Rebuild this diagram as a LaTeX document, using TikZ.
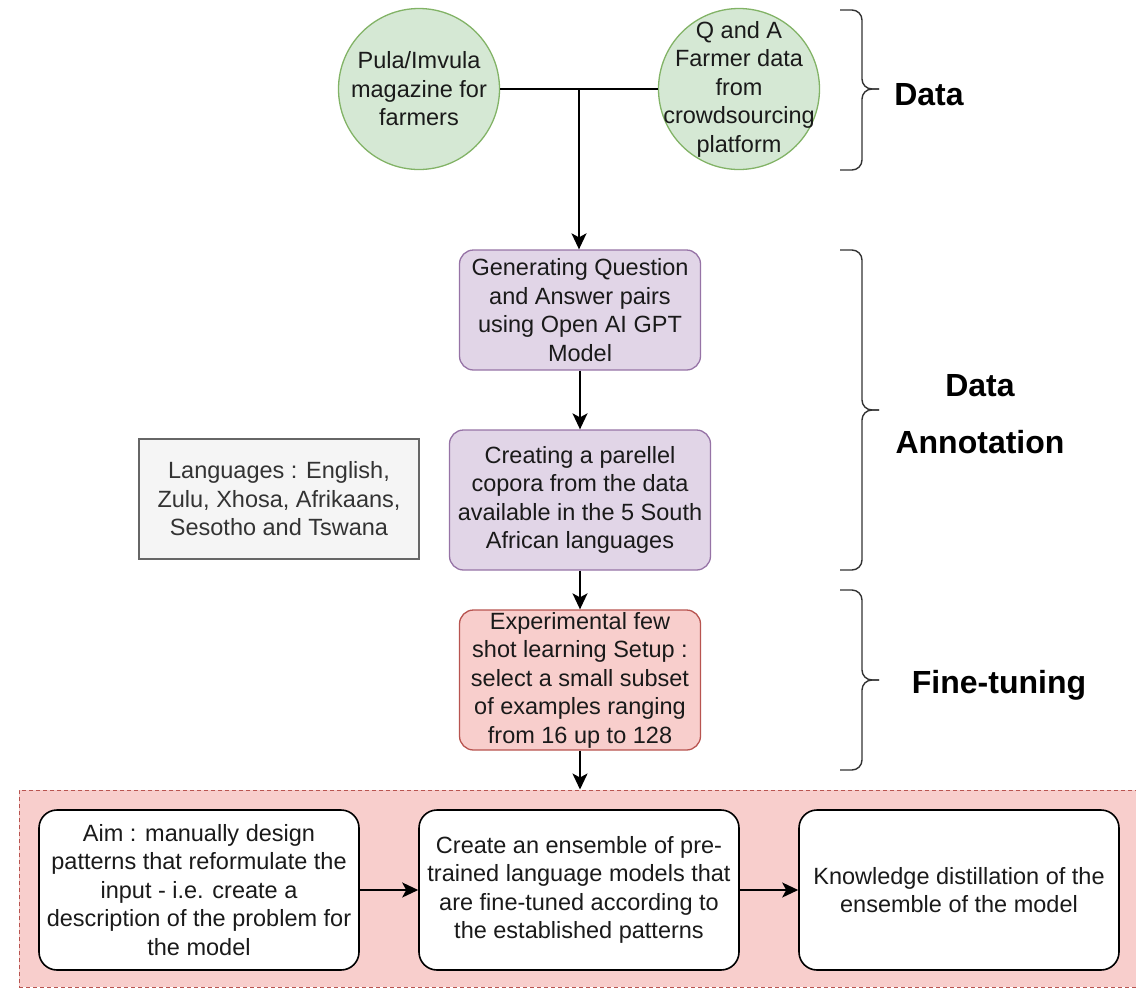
\documentclass[tikz,border=0pt]{standalone}
\usepackage{fontspec}
\setmainfont{Liberation Sans}
\usetikzlibrary{arrows.meta,calc}
\definecolor{gfill}{HTML}{D5E8D4}\definecolor{gline}{HTML}{82B366}
\definecolor{pfill}{HTML}{E1D5E7}\definecolor{pline}{HTML}{9673A6}
\definecolor{rfill}{HTML}{F8CECC}\definecolor{rline}{HTML}{B85450}
\definecolor{lfill}{HTML}{F5F5F5}\definecolor{lline}{HTML}{666666}
\definecolor{ltext}{HTML}{333333}
\definecolor{mtext}{HTML}{1A1A1A}
\begin{document}
\begin{tikzpicture}[x=1pt,y=-1pt,
  every node/.style={font=\fontsize{23.5}{28.5}\selectfont, text=mtext, align=center, inner sep=0pt},
  src/.style={circle, draw=gline, fill=gfill, line width=1.3pt, minimum size=161pt},
  pbox/.style={rectangle, rounded corners=14pt, draw=pline, fill=pfill, line width=1.3pt},
  rbox/.style={rectangle, rounded corners=14pt, draw=rline, fill=rfill, line width=1.3pt},
  wbox/.style={rectangle, rounded corners=18pt, draw=black, fill=white, line width=1.6pt, minimum width=320pt, minimum height=160pt},
  lbox/.style={rectangle, draw=lline, fill=lfill, line width=1.3pt, minimum width=280pt, minimum height=120pt, text=ltext},
  cont/.style={rectangle, draw=rline, fill=rfill, dashed, dash pattern=on 4pt off 3pt, line width=1pt},
  arr/.style={line width=2pt, -{Stealth[length=16pt,width=15pt,inset=4pt]}},
  link/.style={line width=2pt},
  brace/.style={line width=1.4pt, draw=black!80, rounded corners=10pt},
  lab/.style={font=\fontsize{32}{57}\selectfont\bfseries, text=black}]
\useasboundingbox (0,0) rectangle (1136,989);
% container
\node[cont, minimum width=1130pt, minimum height=197pt] (cont) at (584,888.5) {};
% sources
\node[src] (c1) at (419,89) {};
\node (t1) at (c1.center) {Pula/Imvula\\magazine for\\farmers};
\node[src] (c2) at (739,89) {};
\node (t2) at (c2.center) {Q and A\\Farmer data\\from\\crowdsourcing\\platform};
% process boxes
\node[pbox, minimum width=241pt, minimum height=120pt] (b1) at (580,310) {Generating Question\\and Answer pairs\\using Open AI GPT\\Model};
\node[pbox, minimum width=261pt, minimum height=140pt] (b2) at (580,500) {Creating a parellel\\copora from the data\\available in the 5 South\\African languages};
\node[rbox, minimum width=241pt, minimum height=140pt] (b3) at (580,680) {Experimental few\\shot learning Setup :\\select a small subset\\of examples ranging\\from 16 up to 128};
\node[lbox] (lang) at (279,499) {Languages : English,\\Zulu, Xhosa, Afrikaans,\\Sesotho and Tswana};
% bottom boxes
\node[wbox] (w1) at (199,890) {Aim : manually design\\patterns that reformulate the\\input - i.e. create a\\description of the problem for\\the model};
\node[wbox] (w2) at (579,890) {Create an ensemble of pre-\\trained language models that\\are fine-tuned according to\\the established patterns};
\node[wbox] (w3) at (959,890) {Knowledge distillation of the\\ensemble of the model};
% connectors
\draw[link] (c1.east) -- (c2.west);
\coordinate (j) at ($(c1.east)!0.5!(c2.west)$);
\draw[arr] (j) -- (j |- b1.north);
\draw[arr] (b1.south) -- (b2.north);
\draw[arr] (b2.south) -- (b3.north);
\draw[arr] (b3.south) -- (b3.south |- cont.north);
\draw[arr] (w1.east) -- (w2.west);
\draw[arr] (w2.east) -- (w3.west);
% braces
\draw[brace] (840,10) -- (862,10) -- (862,89) -- (879,89);
\draw[brace] (840,170) -- (862,170) -- (862,89) -- (879,89);
\draw[brace] (840,250) -- (862,250) -- (862,410) -- (879,410);
\draw[brace] (840,570) -- (862,570) -- (862,410) -- (879,410);
\draw[brace] (840,590) -- (862,590) -- (862,680) -- (879,680);
\draw[brace] (840,770) -- (862,770) -- (862,680) -- (879,680);
% brace labels
\node[lab] (ld) at (929,95) {Data};
\node[lab] (la) at (980,414) {Data\\Annotation};
\node[lab] (lf) at (999,685) {Fine-tuning};
\end{tikzpicture}
\end{document}
